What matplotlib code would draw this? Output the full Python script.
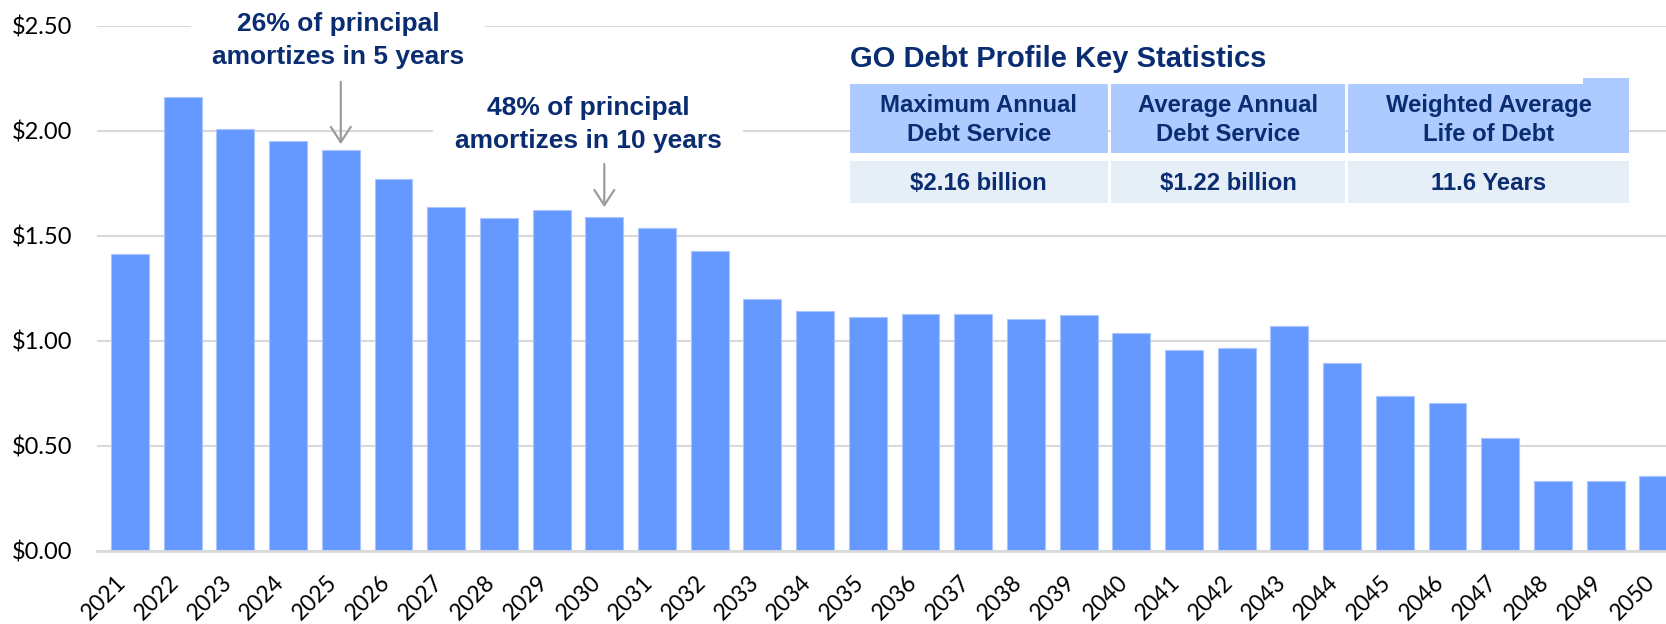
import matplotlib
matplotlib.use("Agg")
import matplotlib.pyplot as plt
from matplotlib.patches import Rectangle
from matplotlib.transforms import ScaledTranslation

plt.rcParams['text.parse_math'] = False

# ---- data ----
years = [str(y) for y in range(2021, 2051)]
debt_service = [1.415, 2.16, 2.01, 1.95, 1.91, 1.77, 1.635, 1.584, 1.621, 1.591,
                1.538, 1.426, 1.197, 1.140, 1.114, 1.127, 1.129, 1.106, 1.125, 1.038,
                0.958, 0.967, 1.072, 0.896, 0.736, 0.703, 0.537, 0.334, 0.331, 0.359]
y_ticks = [0.0, 0.5, 1.0, 1.5, 2.0, 2.5]
y_tick_labels = ["$0.00", "$0.50", "$1.00", "$1.50", "$2.00", "$2.50"]

note1_text = "26% of principal\namortizes in 5 years"
note1_year = "2025"
note2_text = "48% of principal\namortizes in 10 years"
note2_year = "2030"

table_title = "GO Debt Profile Key Statistics"
stat_headers = ["Maximum Annual\nDebt Service", "Average Annual\nDebt Service",
                "Weighted Average\nLife of Debt"]
stat_values = ["$2.16 billion", "$1.22 billion", "11.6 Years"]

# ---- style ----
W, H = 1666, 624
DPI = 100
BAR = "#6699FF"
BAR_EDGE = "#A9C6FF"
NAVY = "#0A2D72"
GRID = "#D9D9D9"
HEAD_FILL = "#AECBFF"
VAL_FILL = "#E6EEF7"
ARROW = "#9C9C9C"
BOLD = ["Liberation Sans", "DejaVu Sans"]
TICKF = ["Lato", "DejaVu Sans"]

fig = plt.figure(figsize=(W / DPI, H / DPI), dpi=DPI)
ax = fig.add_axes([97 / W, 73 / H, 1 - 97 / W, (551 - 25.7) / H])

x = list(range(len(years)))
ax.bar(x, debt_service, width=0.72, color=BAR, edgecolor=BAR_EDGE, linewidth=0.8, zorder=2)

ax.set_xlim(-0.626, 29.146)
ax.set_ylim(0, 2.5)
ax.set_yticks(y_ticks)
ax.set_yticklabels(y_tick_labels, fontfamily=TICKF, fontsize=17, color="#000000")
ax.set_xticks(x)
ax.set_xticklabels(years, fontfamily=TICKF, fontsize=16.5, color="#000000",
                   rotation=45, ha="right", va="center", rotation_mode="anchor")
ax.tick_params(axis="both", length=0)
ax.tick_params(axis="y", pad=18)
ax.tick_params(axis="x", pad=20)
for lab in ax.get_xticklabels():
    lab.set_transform(lab.get_transform() + ScaledTranslation(-7 / DPI, 0, fig.dpi_scale_trans))

ax.grid(axis="y", color=GRID, linewidth=1.5, zorder=0.5)
ax.set_axisbelow(True)
for s in ["top", "right", "left"]:
    ax.spines[s].set_visible(False)
ax.spines["bottom"].set_color(GRID)
ax.spines["bottom"].set_linewidth(2)
ax.patch.set_visible(False)

# ---- annotations ----
i1 = years.index(note1_year)
i2 = years.index(note2_year)
ax.text(3.947, 2.566, note1_text, ha="center", va="top", fontfamily=BOLD,
        fontweight="bold", fontsize=19, color=NAVY, linespacing=1.48, zorder=1.5,
        bbox=dict(boxstyle="square,pad=0.8", facecolor="white", edgecolor="none"))
ax.text(8.69, 2.167, note2_text, ha="center", va="top", fontfamily=BOLD,
        fontweight="bold", fontsize=19, color=NAVY, linespacing=1.48, zorder=1.5,
        bbox=dict(boxstyle="square,pad=0.8", facecolor="white", edgecolor="none"))
arrowprops = dict(arrowstyle="->,head_length=0.55,head_width=0.36", color=ARROW,
                  lw=1.6, mutation_scale=20, shrinkA=0, shrinkB=0)
ax.annotate("", xy=(i1, debt_service[i1] + 0.026), xytext=(i1, 2.233),
            arrowprops=arrowprops, zorder=3)
ax.annotate("", xy=(i2, debt_service[i2] + 0.045), xytext=(i2, 1.842),
            arrowprops=arrowprops, zorder=3)

# ---- key statistics table (figure pixel coords) ----
def fx(px):
    return px / W

def fy(py):
    return 1 - py / H

def rect(x0, y0, x1, y1, color):
    fig.add_artist(Rectangle((fx(x0), fy(y1)), fx(x1) - fx(x0), fy(y0) - fy(y1),
                             transform=fig.transFigure, facecolor=color,
                             edgecolor="none", zorder=5))

fig.text(fx(850), fy(66.7), table_title, ha="left", va="baseline", fontfamily=BOLD,
         fontweight="bold", fontsize=21, color=NAVY, zorder=6)

cols = [(850, 1107.7), (1110.7, 1345.3), (1348.3, 1629)]
head_y = (84, 152.7)
val_y = (160.7, 203)
rect(1583, 77.6, 1629, 90, HEAD_FILL)
for (c0, c1), head, val in zip(cols, stat_headers, stat_values):
    rect(c0, head_y[0], c1, head_y[1], HEAD_FILL)
    rect(c0, val_y[0], c1, val_y[1], VAL_FILL)
    cx = (c0 + c1) / 2
    fig.text(fx(cx), fy(120.3), head, ha="center", va="center", fontfamily=BOLD,
             fontweight="bold", fontsize=17.2, color=NAVY, linespacing=1.35, zorder=6)
    fig.text(fx(cx), fy(183.5), val, ha="center", va="center", fontfamily=BOLD,
             fontweight="bold", fontsize=17.2, color=NAVY, zorder=6)

fig.savefig("out.png", dpi=DPI)
